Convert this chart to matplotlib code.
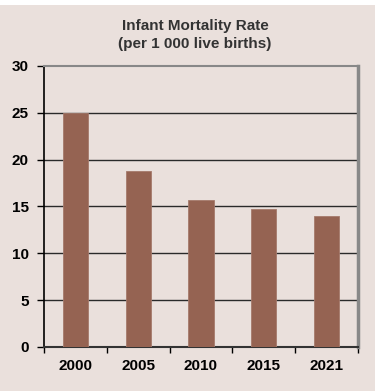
import matplotlib.pyplot as plt
import numpy as np

# data
years = ["2000", "2005", "2010", "2015", "2021"]
rates = [25.0, 18.8, 15.7, 14.7, 14.0]
yticks = [0, 5, 10, 15, 20, 25, 30]

plt.rcParams["font.family"] = ["Liberation Sans", "DejaVu Sans"]
plt.rcParams["font.weight"] = "bold"

bg = "#eae0dc"
fig = plt.figure(figsize=(3.78, 3.91), dpi=100, facecolor="white")
# coloured panel behind the chart (white strip on top and right)
fig.patches.append(plt.Rectangle((0, 0), 375 / 378, 1 - 5 / 391, transform=fig.transFigure,
                                 facecolor=bg, edgecolor="none", zorder=-10))

ax = fig.add_axes([44 / 378, 1 - 347 / 391, (358 - 44) / 378, (347 - 66) / 391])
ax.set_facecolor(bg)
ax.set_zorder(1)

x = np.arange(len(years))
ax.bar(x, rates, width=0.4, color="#956352", edgecolor="#a57a6c", linewidth=0.6, zorder=3)

ax.set_xlim(-0.5, len(years) - 0.5)
ax.set_ylim(0, 30)
ax.set_yticks(yticks)
ax.set_yticklabels([str(t) for t in yticks], fontsize=11, fontweight="bold")
ax.set_xticks(x)
ax.set_xticklabels(years, fontsize=11, fontweight="bold")
ax.tick_params(axis="x", length=0, pad=9)
ax.set_xticks(np.arange(-0.5, len(years)), minor=True)
ax.tick_params(axis="x", which="minor", length=4, width=1, color="black")
ax.tick_params(axis="y", length=5, width=1, color="black", pad=6)

for t in yticks[1:-1]:
    ax.axhline(t, color="#2a2a2a", linewidth=1, zorder=1)

ax.spines["left"].set_color("black")
ax.spines["left"].set_linewidth(1.2)
ax.spines["bottom"].set_color("#333333")
ax.spines["bottom"].set_linewidth(1.5)
ax.spines["top"].set_color("#888888")
ax.spines["top"].set_linewidth(1.5)
ax.spines["right"].set_color("#888888")
ax.spines["right"].set_linewidth(2.5)

fig.text(195 / 378, 1 - 26 / 391, "Infant Mortality Rate", ha="center", va="center",
         fontsize=11, fontweight="bold", color="#333333")
fig.text(195 / 378, 1 - 44 / 391, "(per 1 000 live births)", ha="center", va="center",
         fontsize=11, fontweight="bold", color="#333333")

plt.savefig("out.png", dpi=100, facecolor="white")
